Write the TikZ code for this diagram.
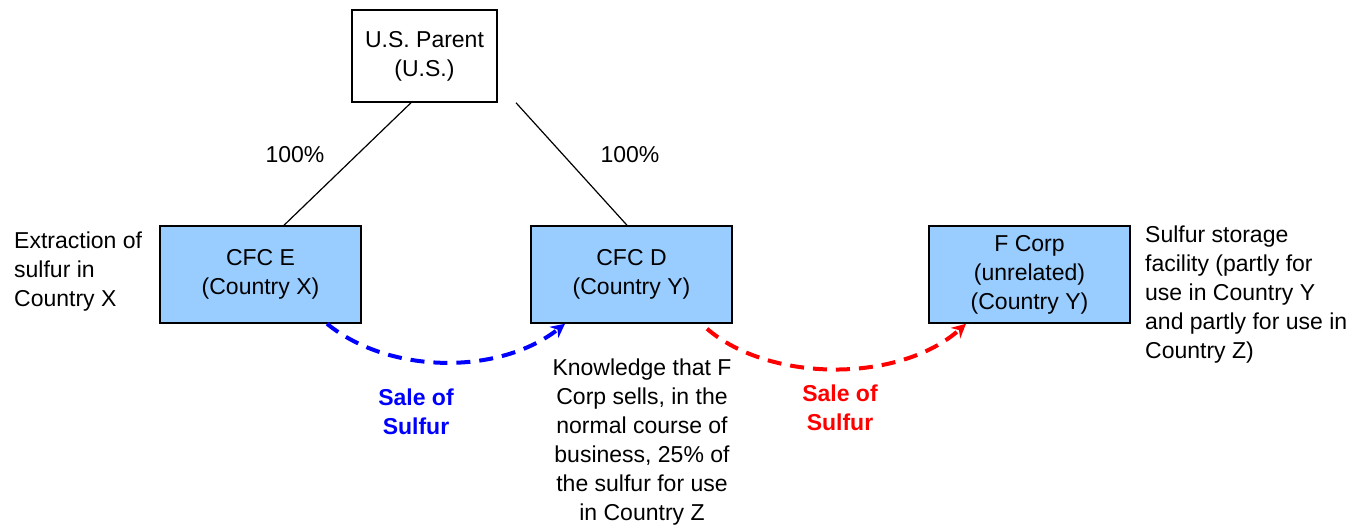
\documentclass[tikz,border=0pt]{standalone}
\usepackage{fontspec}
\setmainfont{Liberation Sans}
\usetikzlibrary{arrows.meta}
\definecolor{boxblue}{RGB}{153,204,255}
\begin{document}
\begin{tikzpicture}[x=1pt,y=-1pt,
  every node/.style={font=\fontsize{23}{29}\selectfont},
  entity/.style={draw=black,line width=1.5pt,fill=boxblue,align=center,inner sep=0pt,minimum width=201pt,minimum height=97pt},
  note/.style={align=left,inner sep=0pt},
  own/.style={line width=1.2pt},
  sale/.style={line width=4pt,dash pattern=on 14pt off 9pt,-{Stealth[length=14pt,width=14pt]}},
  salelabel/.style={font=\fontsize{23}{29}\selectfont\bfseries,align=center,inner sep=0pt}]
\useasboundingbox (0,0) rectangle (1353,525);
\node[entity,minimum width=145pt,minimum height=92pt,fill=white] (parent) at (424.5,56) {\raisebox{-3pt}{\parbox{140pt}{\centering U.S. Parent\\(U.S.)}}};
\node[entity] (cfce) at (260.5,274.5) {CFC E\\(Country X)};
\node[entity] (cfcd) at (631.5,274.5) {CFC D\\(Country Y)};
\node[entity] (fcorp) at (1029.5,274.5) {F Corp\\(unrelated)\\(Country Y)};
\node[inner sep=0pt] (pe) at (295,155) {100\%};
\node[inner sep=0pt] (pd) at (630,155) {100\%};
\node[note,anchor=west] (extr) at (14,272) {Extraction of\\sulfur in\\Country X};
\node[note,anchor=west] (stor) at (1145,295) {Sulfur storage\\facility (partly for\\use in Country Y\\and partly for use in\\Country Z)};
\node[align=center,inner sep=0pt] (know) at (642,442) {Knowledge that F\\Corp sells, in the\\normal course of\\business, 25\% of\\the sulfur for use\\in Country Z};
\node[salelabel,text=blue] (sb) at (416,412) {Sale of\\Sulfur};
\node[salelabel,text=red] (sr) at (840,408) {Sale of\\Sulfur};
\draw[own] ([xshift=-13.5pt]parent.south) -- ([xshift=23.5pt]cfce.north);
\draw[own] ([xshift=91.5pt]parent.south) -- ([xshift=-4.5pt]cfcd.north);
\draw[sale,draw=blue] ([xshift=66.5pt]cfce.south) .. controls (390,375) and (500,375) .. ([xshift=-66.5pt]cfcd.south);
\draw[sale,draw=red] ([xshift=75.5pt,yshift=-5pt]cfcd.south) .. controls (770,383) and (900,383) .. ([xshift=-63.5pt]fcorp.south);
\end{tikzpicture}
\end{document}
